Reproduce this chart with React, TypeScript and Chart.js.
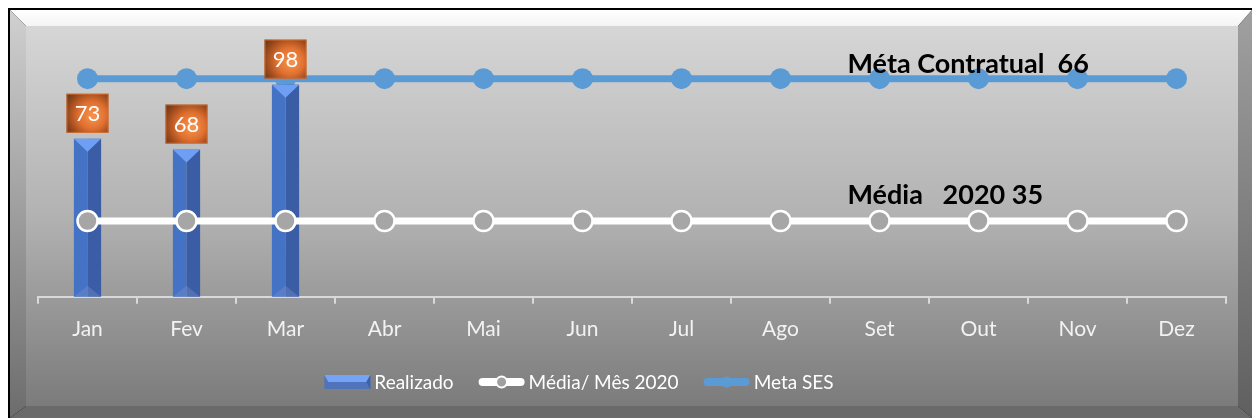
import React, { useEffect, useRef } from 'react';
import { Chart, registerables } from 'chart.js';

Chart.register(...registerables);

const months = ['Jan', 'Fev', 'Mar', 'Abr', 'Mai', 'Jun', 'Jul', 'Ago', 'Set', 'Out', 'Nov', 'Dez'];
const realizado = [73, 68, 98, null, null, null, null, null, null, null, null, null];
const mediaMes2020 = [35, 35, 35, 35, 35, 35, 35, 35, 35, 35, 35, 35];
const metaSES = [66, 66, 66, 66, 66, 66, 66, 66, 66, 66, 66, 66];
const legendLabels = ['Realizado', 'Média/ Mês 2020', 'Meta SES'];
const metaNote = 'Méta Contratual  66';
const mediaNote = 'Média   2020 35';

const FONT = 'Lato, "Open Sans", sans-serif';
const W = 1246;
const H = 412;

const framePlugin = {
  id: 'frame',
  beforeDraw(chart: any) {
    const ctx = chart.ctx;
    const w = chart.width;
    const h = chart.height;
    const o = 2;
    const il = 18, it = 18, ir = 1230, ib = 398;
    ctx.save();
    ctx.fillStyle = '#000';
    ctx.fillRect(0, 0, w, h);
    const g = ctx.createLinearGradient(0, it, 0, ib);
    g.addColorStop(0, '#d6d6d6');
    g.addColorStop(0.5, '#b2b2b2');
    g.addColorStop(1, '#7b7b7b');
    ctx.fillStyle = g;
    ctx.fillRect(il, it, ir - il, ib - it);
    const gt = ctx.createLinearGradient(0, o, 0, it);
    gt.addColorStop(0, '#ffffff');
    gt.addColorStop(1, '#f4f4f4');
    ctx.fillStyle = gt;
    ctx.beginPath();
    ctx.moveTo(o, o); ctx.lineTo(w - o, o); ctx.lineTo(ir, it); ctx.lineTo(il, it); ctx.closePath();
    ctx.fill();
    const gl = ctx.createLinearGradient(0, o, 0, h - o);
    gl.addColorStop(0, '#d0d0d0');
    gl.addColorStop(1, '#6c6c6c');
    ctx.fillStyle = gl;
    ctx.beginPath();
    ctx.moveTo(o, o); ctx.lineTo(il, it); ctx.lineTo(il, ib); ctx.lineTo(o, h - o); ctx.closePath();
    ctx.fill();
    const gr = ctx.createLinearGradient(0, o, 0, h - o);
    gr.addColorStop(0, '#a0a0a0');
    gr.addColorStop(1, '#5f5f5f');
    ctx.fillStyle = gr;
    ctx.beginPath();
    ctx.moveTo(w - o, o); ctx.lineTo(w - o, h - o); ctx.lineTo(ir, ib); ctx.lineTo(ir, it); ctx.closePath();
    ctx.fill();
    ctx.fillStyle = '#6a6a6a';
    ctx.beginPath();
    ctx.moveTo(o, h - o); ctx.lineTo(w - o, h - o); ctx.lineTo(ir, ib); ctx.lineTo(il, ib); ctx.closePath();
    ctx.fill();
    ctx.restore();
  },
  afterDatasetDraw(chart: any, args: any) {
    if (args.meta.type !== 'bar') return;
    const ctx = chart.ctx;
    ctx.save();
    args.meta.data.forEach((el: any, i: number) => {
      if (realizado[i] == null) return;
      const p = el.getProps(['x', 'y', 'base', 'width'], true);
      const l = p.x - p.width / 2;
      const r = p.x + p.width / 2;
      const t = p.y;
      const b = p.base;
      ctx.fillStyle = '#4472c4';
      ctx.fillRect(l, t, p.width / 2, b - t);
      ctx.fillStyle = '#3a5da6';
      ctx.fillRect(p.x, t, p.width / 2, b - t);
      ctx.fillStyle = '#6f9ff4';
      ctx.beginPath();
      ctx.moveTo(l, t); ctx.lineTo(r, t); ctx.lineTo(p.x, t + 13); ctx.closePath();
      ctx.fill();
      ctx.fillStyle = 'rgba(130,150,205,0.35)';
      ctx.beginPath();
      ctx.moveTo(l, b); ctx.lineTo(r, b); ctx.lineTo(p.x, b - 11); ctx.closePath();
      ctx.fill();
    });
    ctx.restore();
  },
  afterDraw(chart: any) {
    const ctx = chart.ctx;
    const xs = chart.scales.x;
    const ys = chart.scales.y;
    const y1 = chart.scales.y1;
    ctx.save();
    const barMeta = chart.getDatasetMeta(0);
    barMeta.data.forEach((el: any, i: number) => {
      const v = realizado[i];
      if (v == null) return;
      const p = el.getProps(['x', 'y'], true);
      const bw = 42, bh = 39;
      const bx = p.x - bw / 2;
      const by = p.y - 6 - bh;
      const cx = p.x, cy = by + bh / 2;
      const g = ctx.createRadialGradient(cx + 6, cy + 3, 2, cx + 3, cy + 1, 31);
      g.addColorStop(0, '#f4904a');
      g.addColorStop(0.4, '#e07030');
      g.addColorStop(0.75, '#98481c');
      g.addColorStop(1, '#603418');
      ctx.fillStyle = g;
      ctx.fillRect(bx, by, bw, bh);
      ctx.strokeStyle = 'rgba(220,110,45,0.8)';
      ctx.lineWidth = 1;
      ctx.strokeRect(bx + 0.5, by + 0.5, bw - 1, bh - 1);
      ctx.fillStyle = '#ffffff';
      ctx.font = `22px ${FONT}`;
      ctx.textAlign = 'center';
      ctx.textBaseline = 'middle';
      ctx.fillText(String(v), cx, cy + 1);
    });
    const nx = xs.getPixelForValue(8) - 32;
    ctx.fillStyle = '#000';
    ctx.font = `bold 27px ${FONT}`;
    ctx.textAlign = 'left';
    ctx.textBaseline = 'alphabetic';
    ctx.fillText(metaNote, nx, y1.getPixelForValue(metaSES[8]) - 6);
    ctx.fillText(mediaNote, nx, ys.getPixelForValue(mediaMes2020[8]) - 17);

    ctx.font = `19px ${FONT}`;
    const iconW = 46, gap = 4, spacing = 25;
    const widths = legendLabels.map((t) => ctx.measureText(t).width);
    const total = widths.reduce((a, b) => a + b, 0) + legendLabels.length * (iconW + gap) + spacing * (legendLabels.length - 1);
    let lx = 571 - total / 2;
    const ly = 374;
    legendLabels.forEach((t, i) => {
      if (i === 0) {
        ctx.fillStyle = '#4f74b9';
        ctx.fillRect(lx, ly - 7, iconW, 14);
        ctx.fillStyle = '#74a3f8';
        ctx.beginPath();
        ctx.moveTo(lx, ly - 7); ctx.lineTo(lx + iconW, ly - 7); ctx.lineTo(lx + iconW - 4, ly); ctx.lineTo(lx + 4, ly); ctx.closePath();
        ctx.fill();
        ctx.fillStyle = '#3e62a8';
        ctx.beginPath();
        ctx.moveTo(lx + iconW, ly - 7); ctx.lineTo(lx + iconW, ly + 7); ctx.lineTo(lx + iconW - 4, ly); ctx.closePath();
        ctx.fill();
      } else {
        const col = i === 1 ? '#ffffff' : '#5b9bd5';
        ctx.strokeStyle = col;
        ctx.lineWidth = 8;
        ctx.lineCap = 'round';
        ctx.beginPath();
        ctx.moveTo(lx + 4, ly); ctx.lineTo(lx + iconW - 4, ly);
        ctx.stroke();
        ctx.beginPath();
        ctx.arc(lx + iconW / 2, ly, 5.5, 0, Math.PI * 2);
        if (i === 1) {
          ctx.fillStyle = '#a0a0a0';
          ctx.fill();
          ctx.lineWidth = 2;
          ctx.strokeStyle = '#ffffff';
          ctx.stroke();
        } else {
          ctx.fillStyle = '#5b9bd5';
          ctx.fill();
        }
      }
      ctx.fillStyle = '#ffffff';
      ctx.textAlign = 'left';
      ctx.textBaseline = 'middle';
      ctx.fillText(t, lx + iconW + gap, ly + 1);
      lx += iconW + gap + widths[i] + spacing;
    });
    ctx.restore();
  },
};

export default function App() {
  const ref = useRef<HTMLCanvasElement | null>(null);
  useEffect(() => {
    if (!ref.current) return;
    const chart = new Chart(ref.current, {
      type: 'bar',
      data: {
        labels: months,
        datasets: [
          {
            type: 'bar',
            label: legendLabels[0],
            data: realizado as any,
            backgroundColor: 'rgba(0,0,0,0)',
            barPercentage: 0.275,
            categoryPercentage: 1,
            order: 2,
            yAxisID: 'y',
          },
          {
            type: 'line',
            label: legendLabels[1],
            data: mediaMes2020,
            borderColor: '#ffffff',
            borderWidth: 7,
            pointRadius: 10,
            pointBackgroundColor: '#a6a6a6',
            pointBorderColor: '#ffffff',
            pointBorderWidth: 2.5,
            order: 1,
            yAxisID: 'y',
            clip: false as any,
          },
          {
            type: 'line',
            label: legendLabels[2],
            data: metaSES,
            borderColor: '#5b9bd5',
            borderWidth: 7,
            pointRadius: 10.5,
            pointBackgroundColor: '#5b9bd5',
            pointBorderWidth: 0,
            order: 3,
            yAxisID: 'y1',
            clip: false as any,
          },
        ] as any,
      },
      options: {
        animation: false,
        responsive: false,
        maintainAspectRatio: false,
        events: [],
        layout: { padding: { left: 30, right: 28, top: 29, bottom: 65 } },
        plugins: { legend: { display: false }, tooltip: { enabled: false } },
        scales: {
          x: {
            offset: true,
            grid: {
              display: true,
              offset: true,
              drawOnChartArea: false,
              drawTicks: true,
              tickLength: 7,
              color: '#d9d9d9',
              lineWidth: 2,
            },
            border: { display: true, color: '#d9d9d9', width: 2 },
            ticks: { color: '#f2f2f2', font: { family: FONT, size: 21 }, padding: 13, maxRotation: 0 },
          },
          y: { display: false, min: 0, max: 120 },
          y1: { display: false, min: 0, max: 78.6, position: 'right' },
        },
      },
      plugins: [framePlugin],
    } as any);
    return () => chart.destroy();
  }, []);
  return (
    <div style={{ position: 'fixed', left: 8, top: 8, width: W, height: H }}>
      <canvas ref={ref} width={W} height={H} style={{ width: W, height: H, display: 'block' }} />
    </div>
  );
}
